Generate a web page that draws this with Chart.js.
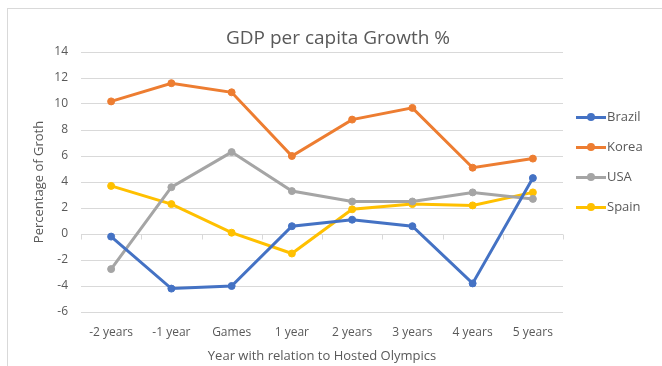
<!DOCTYPE html>
<html>
<head>
<meta charset="utf-8">
<script src="https://cdn.jsdelivr.net/npm/chart.js@4.4.1/dist/chart.umd.min.js"></script>
<style>
  body { margin: 0; background: #fff; overflow: hidden; }
  #frame { position: absolute; left: 7px; top: 8px; width: 700px; height: 400px; border: 1px solid #D9D9D9; }
  #wrap { position: absolute; left: 0; top: 0; width: 662px; height: 366px; }
  #custom-legend { position: absolute; left: 576px; top: 0; font-family: "Open Sans", sans-serif; font-size: 13px; color: #595959; }
  .item { position: absolute; left: 0; height: 16px; width: 80px; }
  .swatch { position: absolute; left: 0; top: 6.5px; width: 30px; height: 3px; }
  .swatch i { position: absolute; left: 11px; top: -2.5px; width: 8px; height: 8px; border-radius: 50%; }
  .item span.lbl { position: absolute; left: 31px; top: -1px; line-height: 16px; }
</style>
</head>
<body>
<div id="frame"></div>
<div id="wrap"><canvas id="gdpChart" width="662" height="366"></canvas></div>
<div id="custom-legend"></div>
<script>
// Categories and series
const categories = ['-2 years', '-1 year', 'Games', '1 year', '2 years', '3 years', '4 years', '5 years'];
const brazil = [-0.2, -4.2, -4.0, 0.6, 1.1, 0.6, -3.8, 4.3];
const korea  = [10.2, 11.6, 10.9, 6.0, 8.8, 9.7, 5.1, 5.8];
const usa    = [-2.7, 3.6, 6.3, 3.3, 2.5, 2.5, 3.2, 2.7];
const spain  = [3.7, 2.3, 0.1, -1.5, 1.9, 2.3, 2.2, 3.2];
const seriesNames = ['Brazil', 'Korea', 'USA', 'Spain'];
const seriesColors = ['#4472C4', '#ED7D31', '#A5A5A5', '#FFC000'];

const textColor = '#595959';
const gridColor = '#D9D9D9';
const fontFamily = '"Open Sans", sans-serif';

function makeSet(i, data) {
    return {
        label: seriesNames[i],
        data: data,
        borderColor: seriesColors[i],
        backgroundColor: seriesColors[i],
        borderWidth: 3,
        pointRadius: 3.5,
        pointBorderWidth: 1,
        pointBackgroundColor: seriesColors[i],
        pointBorderColor: seriesColors[i],
        tension: 0,
        clip: false
    };
}

// tick marks on the zero line, at category boundaries (Excel style)
const zeroAxisTicks = {
    id: 'zeroAxisTicks',
    beforeDatasetsDraw(chart) {
        const x = chart.scales.x, y = chart.scales.y;
        const ctx = chart.ctx;
        const y0 = Math.round(y.getPixelForValue(0)) + 0.5;
        const step = x.getPixelForValue(1) - x.getPixelForValue(0);
        ctx.save();
        ctx.strokeStyle = gridColor;
        ctx.lineWidth = 1;
        ctx.beginPath();
        for (let i = 0; i <= categories.length; i++) {
            const px = Math.round(x.getPixelForValue(0) - step / 2 + i * step) + 0.5;
            ctx.moveTo(px, y0);
            ctx.lineTo(px, y0 + 5);
        }
        ctx.stroke();
        ctx.restore();
    }
};

const ctx = document.getElementById('gdpChart').getContext('2d');
const chart = new Chart(ctx, {
    type: 'line',
    data: {
        labels: categories,
        datasets: [makeSet(0, brazil), makeSet(1, korea), makeSet(2, usa), makeSet(3, spain)]
    },
    options: {
        responsive: false,
        animation: false,
        layout: { padding: { left: 14, right: 0, top: 0, bottom: 0 } },
        plugins: {
            legend: { display: false },
            tooltip: { enabled: false },
            title: {
                display: true,
                text: 'GDP per capita Growth %',
                color: textColor,
                font: { family: fontFamily, size: 19, weight: 'normal', lineHeight: 1.2 },
                padding: { top: 27.6, bottom: 1.6 }
            }
        },
        scales: {
            x: {
                offset: true,
                grid: { display: false, drawTicks: false },
                border: { display: false },
                ticks: { color: textColor, font: { family: fontFamily, size: 12 }, padding: 13, maxRotation: 0, autoSkip: false },
                title: {
                    display: true,
                    text: 'Year with relation to Hosted Olympics',
                    color: textColor,
                    font: { family: fontFamily, size: 13, lineHeight: 1.2 },
                    padding: { top: 0, bottom: 2.2 }
                },
                afterFit(scale) { scale.height = 54; }
            },
            y: {
                min: -6,
                max: 14,
                ticks: { stepSize: 2, color: textColor, font: { family: fontFamily, size: 12 }, padding: 13 },
                grid: { color: gridColor, lineWidth: 1, drawTicks: false },
                border: { display: false },
                title: {
                    display: true,
                    text: 'Percentage of Groth',
                    color: textColor,
                    font: { family: fontFamily, size: 13, lineHeight: 1.2 },
                    padding: { top: 17, bottom: 0 }
                },
                afterFit(scale) { scale.width = 67; }
            },
            spacer: {
                position: 'right',
                min: 0,
                max: 1,
                grid: { display: false },
                border: { display: false },
                ticks: { display: false },
                afterFit(scale) { scale.width = 99; }
            }
        }
    },
    plugins: [zeroAxisTicks]
});

// custom legend, line + marker like the original
const legendContainer = document.getElementById('custom-legend');
const rowTops = [109, 139, 169, 199];
seriesNames.forEach((name, i) => {
    const item = document.createElement('div');
    item.className = 'item';
    item.style.top = rowTops[i] + 'px';
    item.innerHTML = `<span class="swatch" style="background:${seriesColors[i]}"><i style="background:${seriesColors[i]}"></i></span><span class="lbl">${name}</span>`;
    legendContainer.appendChild(item);
});
</script>
</body>
</html>
